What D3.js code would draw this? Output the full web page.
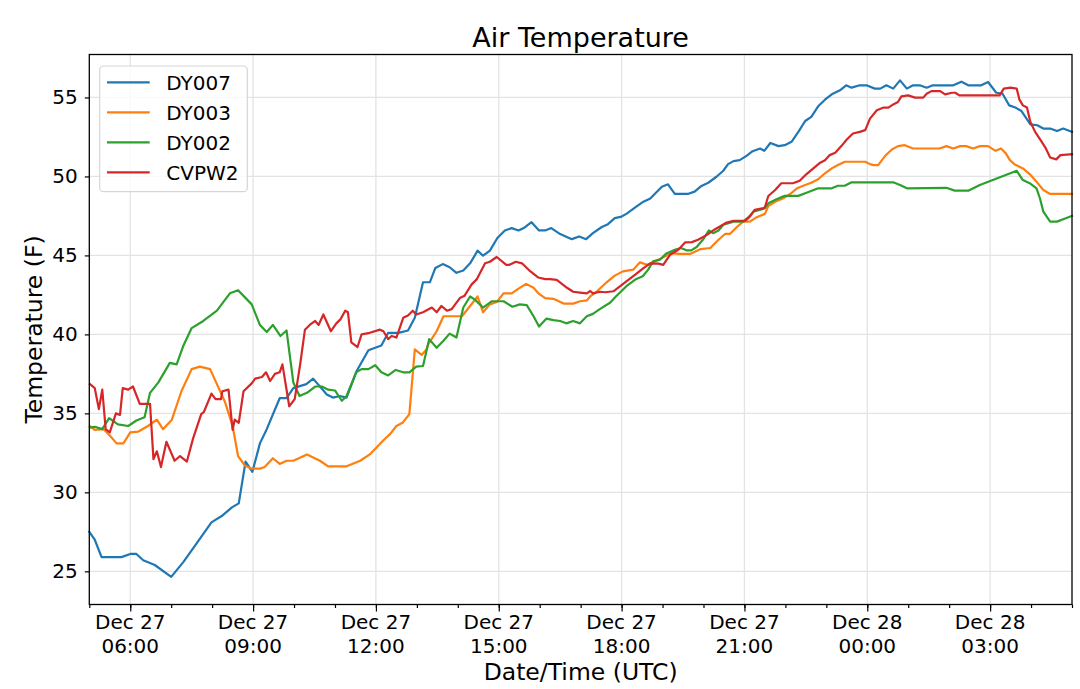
<!DOCTYPE html>
<html>
<head>
<meta charset="utf-8">
<script src="https://cdn.jsdelivr.net/npm/d3@7"></script>
<style>
  body { margin: 0; background: #fff; }
  text { font-family: "DejaVu Sans", sans-serif; fill: #000; }
</style>
</head>
<body>
<script>
// station series, times as "day HH:MM" in December (UTC)
const dy007Time = ["27 05:00","27 05:08","27 05:18","27 05:47","27 06:00","27 06:09","27 06:19","27 06:36","27 07:00","27 07:18","27 07:37","27 07:59","27 08:14","27 08:29","27 08:39","27 08:49","27 08:59","27 09:10","27 09:20","27 09:39","27 09:49","27 09:59","27 10:18","27 10:28","27 10:48","27 10:57","27 11:07","27 11:17","27 11:32","27 11:49","27 12:08","27 12:18","27 12:33","27 12:47","27 12:57","27 13:09","27 13:19","27 13:27","27 13:38","27 13:48","27 13:58","27 14:08","27 14:18","27 14:29","27 14:37","27 14:47","27 14:58","27 15:09","27 15:19","27 15:29","27 15:38","27 15:48","27 15:59","27 16:08","27 16:17","27 16:30","27 16:47","27 16:58","27 17:08","27 17:18","27 17:31","27 17:40","27 17:50","27 18:00","27 18:07","27 18:22","27 18:32","27 18:42","27 18:59","27 19:08","27 19:18","27 19:38","27 19:47","27 19:57","27 20:07","27 20:19","27 20:29","27 20:36","27 20:44","27 20:53","27 21:03","27 21:12","27 21:23","27 21:29","27 21:38","27 21:50","27 21:59","27 22:09","27 22:19","27 22:29","27 22:38","27 22:48","27 22:58","27 23:08","27 23:20","27 23:29","27 23:37","27 23:49","27 23:59","28 00:11","28 00:19","28 00:28","28 00:38","28 00:48","28 00:58","28 01:07","28 01:17","28 01:27","28 01:36","28 02:06","28 02:18","28 02:28","28 02:47","28 02:57","28 03:09","28 03:18","28 03:28","28 03:37","28 03:46","28 03:59","28 04:09","28 04:18","28 04:28","28 04:38","28 04:47","28 05:00"];
const dy007Temp = [27.5,27.0,25.9,25.9,26.1,26.1,25.7,25.4,24.65,25.6,26.75,28.1,28.5,29.05,29.3,31.95,31.3,33.1,34.0,35.96,35.96,36.6,36.85,37.2,36.2,36.0,36.1,36.0,37.7,39.0,39.3,40.1,40.1,40.25,41.05,43.3,43.3,44.2,44.45,44.25,43.9,44.05,44.5,45.3,44.98,45.3,46.1,46.58,46.73,46.58,46.77,47.1,46.58,46.58,46.73,46.35,46.03,46.2,46.03,46.41,46.8,46.98,47.36,47.46,47.63,48.1,48.4,48.6,49.35,49.5,48.9,48.9,49.04,49.4,49.6,49.98,50.36,50.78,50.97,51.03,51.3,51.6,51.77,51.62,52.12,51.92,51.98,52.19,52.82,53.51,53.77,54.44,54.86,55.2,55.45,55.77,55.62,55.77,55.77,55.56,55.56,55.77,55.56,56.08,55.56,55.77,55.77,55.62,55.77,55.77,56.0,55.77,55.77,55.98,55.3,55.25,54.5,54.36,54.14,53.3,53.24,53.03,53.03,52.88,53.03,52.82];

const dy003Time = ["27 05:01","27 05:08","27 05:21","27 05:30","27 05:40","27 05:50","27 06:00","27 06:12","27 06:26","27 06:39","27 06:48","27 07:01","27 07:15","27 07:30","27 07:42","27 07:57","27 08:07","27 08:19","27 08:30","27 08:38","27 08:48","27 08:58","27 09:10","27 09:17","27 09:29","27 09:39","27 09:49","27 09:59","27 10:19","27 10:38","27 10:50","27 11:17","27 11:37","27 11:51","27 12:11","27 12:21","27 12:30","27 12:39","27 12:49","27 12:57","27 13:07","27 13:14","27 13:17","27 13:29","27 13:39","27 14:06","27 14:18","27 14:29","27 14:37","27 14:47","27 14:57","27 15:07","27 15:19","27 15:29","27 15:40","27 15:51","27 15:58","27 16:08","27 16:20","27 16:35","27 16:49","27 16:59","27 17:09","27 17:14","27 17:24","27 17:38","27 17:50","27 18:02","27 18:17","27 18:27","27 18:37","27 18:44","27 18:54","27 19:04","27 19:14","27 19:24","27 19:41","27 19:56","27 20:10","27 20:22","27 20:32","27 20:39","27 20:49","27 20:58","27 21:08","27 21:18","27 21:30","27 21:35","27 21:45","27 21:57","27 22:07","27 22:17","27 22:29","27 22:38","27 22:48","27 22:58","27 23:08","27 23:17","27 23:27","27 23:57","28 00:04","28 00:09","28 00:16","28 00:26","28 00:36","28 00:45","28 00:55","28 01:07","28 01:46","28 01:56","28 02:06","28 02:16","28 02:25","28 02:35","28 02:45","28 02:57","28 03:08","28 03:16","28 03:23","28 03:29","28 03:36","28 03:48","28 03:58","28 04:08","28 04:18","28 04:28","28 05:00"];
const dy003Temp = [34.2,33.96,34.0,33.6,33.1,33.1,33.8,33.85,34.2,34.6,34.0,34.6,36.4,37.8,37.96,37.8,36.85,35.7,34.2,32.3,31.7,31.5,31.5,31.6,32.16,31.8,32.0,32.0,32.4,32.0,31.65,31.65,32.0,32.4,33.3,33.7,34.2,34.4,34.95,39.05,38.7,39.05,39.4,40.2,41.15,41.15,41.8,42.4,41.4,41.9,42.05,42.6,42.6,42.9,43.2,42.95,42.6,42.3,42.25,41.95,41.95,42.1,42.15,42.4,42.73,43.3,43.72,43.99,44.1,44.56,44.41,44.52,44.73,44.94,45.15,45.1,45.1,45.4,45.47,45.99,46.37,46.37,46.8,47.14,47.14,47.42,47.63,48.13,48.4,48.62,48.89,49.25,49.46,49.6,49.82,50.2,50.51,50.72,50.93,50.93,50.78,50.72,50.72,51.29,51.71,51.92,51.98,51.77,51.77,51.92,51.77,51.92,51.92,51.77,51.92,51.92,51.62,51.77,51.46,51.03,50.76,50.51,50.15,49.67,49.14,48.89,48.89];

const dy002Time = ["27 05:01","27 05:08","27 05:19","27 05:29","27 05:42","27 05:57","27 06:09","27 06:21","27 06:29","27 06:41","27 06:58","27 07:08","27 07:18","27 07:30","27 07:47","27 08:07","27 08:26","27 08:38","27 08:58","27 09:10","27 09:20","27 09:29","27 09:40","27 09:49","27 09:59","27 10:08","27 10:19","27 10:31","27 10:41","27 10:50","27 11:00","27 11:10","27 11:17","27 11:31","27 11:39","27 11:49","27 11:59","27 12:08","27 12:18","27 12:29","27 12:40","27 12:49","27 12:59","27 13:09","27 13:18","27 13:29","27 13:39","27 13:48","27 13:58","27 14:08","27 14:18","27 14:25","27 14:37","27 14:50","27 15:07","27 15:20","27 15:31","27 15:41","27 15:51","27 15:59","27 16:10","27 16:20","27 16:30","27 16:39","27 16:49","27 16:59","27 17:09","27 17:18","27 17:28","27 17:43","27 17:52","27 18:07","27 18:20","27 18:31","27 18:39","27 18:46","27 18:56","27 19:05","27 19:18","27 19:27","27 19:35","27 19:42","27 19:50","27 19:59","27 20:08","27 20:14","27 20:22","27 20:29","27 20:44","27 20:58","27 21:06","27 21:13","27 21:26","27 21:30","27 21:35","27 21:47","27 21:59","27 22:19","27 22:31","27 22:48","27 23:08","27 23:17","27 23:27","27 23:37","28 00:38","28 00:48","28 00:58","28 01:56","28 02:08","28 02:28","28 02:45","28 03:39","28 03:48","28 03:58","28 04:08","28 04:13","28 04:18","28 04:28","28 04:38","28 04:48","28 05:00"];
const dy002Temp = [34.1,34.15,34.0,34.7,34.3,34.2,34.55,34.75,36.3,36.95,38.2,38.1,39.3,40.4,40.85,41.5,42.6,42.8,41.9,40.6,40.15,40.6,39.9,40.25,36.95,36.1,36.3,36.7,36.7,36.5,36.45,35.8,36.1,37.6,37.8,37.8,38.05,37.6,37.4,37.75,37.6,37.6,37.96,38.0,39.7,39.15,39.6,40.05,39.8,41.7,42.4,42.2,41.7,42.1,42.1,41.75,41.9,41.85,41.15,40.5,41.0,40.9,40.85,40.7,40.85,40.7,41.15,41.3,41.6,42.0,42.41,43.05,43.47,43.68,44.1,44.62,44.73,45.1,45.36,45.47,45.32,45.32,45.53,45.99,46.58,46.41,46.58,46.94,47.14,47.14,47.42,47.77,47.93,47.99,48.3,48.56,48.77,48.77,48.97,49.25,49.25,49.41,49.41,49.63,49.63,49.46,49.25,49.28,49.1,49.1,49.46,50.36,49.77,49.57,49.25,48.62,47.77,47.14,47.14,47.31,47.5];

const cvpw2Time = ["27 05:01","27 05:08","27 05:14","27 05:19","27 05:24","27 05:30","27 05:39","27 05:45","27 05:49","27 05:57","27 06:04","27 06:14","27 06:29","27 06:34","27 06:39","27 06:45","27 06:53","27 07:05","27 07:13","27 07:23","27 07:32","27 07:44","27 07:48","27 07:59","27 08:05","27 08:13","27 08:15","27 08:24","27 08:30","27 08:33","27 08:39","27 08:46","27 08:58","27 09:03","27 09:13","27 09:19","27 09:25","27 09:32","27 09:39","27 09:43","27 09:53","27 10:01","27 10:09","27 10:16","27 10:23","27 10:31","27 10:36","27 10:43","27 10:54","27 11:02","27 11:08","27 11:15","27 11:19","27 11:24","27 11:33","27 11:39","27 11:51","27 12:06","27 12:11","27 12:18","27 12:23","27 12:30","27 12:40","27 12:47","27 12:54","27 12:59","27 13:09","27 13:22","27 13:29","27 13:36","27 13:44","27 13:51","27 14:03","27 14:10","27 14:20","27 14:28","27 14:40","27 14:47","27 14:57","27 15:11","27 15:15","27 15:25","27 15:34","27 15:46","27 15:58","27 16:08","27 16:15","27 16:25","27 16:40","27 16:49","27 16:59","27 17:09","27 17:14","27 17:18","27 17:28","27 17:36","27 17:48","27 17:58","27 18:07","27 18:20","27 18:32","27 18:42","27 18:54","27 19:01","27 19:11","27 19:23","27 19:33","27 19:43","27 19:52","27 20:05","27 20:17","27 20:24","27 20:34","27 20:44","27 21:01","27 21:08","27 21:15","27 21:28","27 21:30","27 21:35","27 21:45","27 21:54","27 22:11","27 22:21","27 22:31","27 22:41","27 22:51","27 22:58","27 23:05","27 23:13","27 23:22","27 23:30","27 23:39","27 23:49","27 23:57","28 00:04","28 00:14","28 00:24","28 00:31","28 00:38","28 00:45","28 00:50","28 01:00","28 01:10","28 01:22","28 01:27","28 01:34","28 01:47","28 01:54","28 02:04","28 02:09","28 02:15","28 03:14","28 03:20","28 03:30","28 03:39","28 03:43","28 03:48","28 03:54","28 03:59","28 04:06","28 04:14","28 04:21","28 04:28","28 04:37","28 04:43","28 05:00"];
const cvpw2Temp = [36.85,36.6,35.27,36.5,34.0,33.8,35.0,34.9,36.6,36.5,36.7,35.6,35.6,32.1,32.6,31.6,33.2,32.0,32.3,31.95,33.4,34.95,35.1,36.25,35.9,35.9,36.4,36.5,33.95,34.6,34.4,36.4,36.9,37.2,37.3,37.6,37.05,37.5,37.6,38.1,35.45,35.9,38.1,40.3,40.6,40.85,40.6,41.26,40.2,40.7,40.95,41.5,41.4,39.5,39.2,40.0,40.1,40.3,40.2,39.7,39.9,39.8,41.05,41.2,41.5,41.26,41.4,41.7,41.4,41.8,41.5,41.6,42.3,42.45,43.15,43.5,44.5,44.6,44.9,44.4,44.4,44.6,44.5,44.0,43.6,43.5,43.5,43.45,42.95,42.7,42.65,42.6,42.75,42.6,42.7,42.67,42.73,43.05,43.36,43.78,44.2,44.5,44.48,44.4,45.04,45.36,45.82,45.84,45.99,46.3,46.66,46.83,47.08,47.19,47.19,47.46,47.88,47.99,48.05,48.76,49.14,49.57,49.57,49.73,50.15,50.51,50.87,51.03,51.35,51.5,51.92,52.34,52.72,52.82,52.93,53.66,54.19,54.36,54.36,54.56,54.71,55.07,55.13,54.99,54.99,55.24,55.4,55.4,55.2,55.3,55.3,55.13,55.13,55.56,55.62,55.56,54.86,54.5,54.36,53.45,52.82,52.3,51.83,51.2,51.08,51.35,51.41];

const seriesNames = ["DY007", "DY003", "DY002", "CVPW2"];
const seriesColors = ["#1f77b4", "#ff7f0e", "#2ca02c", "#d62728"];
const timeStart = "27 05:00";
const timeEnd = "28 05:00";
const tempTicks = [25, 30, 35, 40, 45, 50, 55];

const W = 1080, H = 689;
const plotLeft = 89.3, plotRight = 1072, plotTop = 54.5, plotBottom = 604.5;

const parse = d3.timeParse("%b %d %H:%M");
const toDate = s => parse("Dec " + s);

const series = [
  { name: seriesNames[0], color: seriesColors[0], times: dy007Time, temps: dy007Temp },
  { name: seriesNames[1], color: seriesColors[1], times: dy003Time, temps: dy003Temp },
  { name: seriesNames[2], color: seriesColors[2], times: dy002Time, temps: dy002Temp },
  { name: seriesNames[3], color: seriesColors[3], times: cvpw2Time, temps: cvpw2Temp }
].map(s => ({ ...s, points: s.times.map((t, i) => [toDate(t), s.temps[i]]) }));

const svg = d3.select("body").append("svg")
  .attr("width", W)
  .attr("height", H)
  .attr("viewBox", `0 0 ${W} ${H}`);

const x = d3.scaleTime()
  .domain([toDate(timeStart), toDate(timeEnd)])
  .range([plotLeft, plotRight]);

const y = d3.scaleLinear()
  .domain([22.9, 57.72])
  .range([plotBottom, plotTop]);

const majorTimes = d3.timeHour.every(3).range(x.domain()[0], d3.timeMinute.offset(x.domain()[1], 1));
const minorTimes = d3.timeHour.every(1).range(x.domain()[0], d3.timeMinute.offset(x.domain()[1], 1));

// grid
const grid = svg.append("g").attr("stroke", "#e3e3e3").attr("stroke-width", 1.3);
majorTimes.forEach(t => {
  grid.append("line").attr("x1", x(t)).attr("x2", x(t)).attr("y1", plotTop).attr("y2", plotBottom);
});
tempTicks.forEach(v => {
  grid.append("line").attr("x1", plotLeft).attr("x2", plotRight).attr("y1", y(v)).attr("y2", y(v));
});

// lines
const line = d3.line().x(d => x(d[0])).y(d => y(d[1]));
const plot = svg.append("g");
series.forEach(s => {
  plot.append("path")
    .attr("d", line(s.points))
    .attr("fill", "none")
    .attr("stroke", s.color)
    .attr("stroke-width", 2.2)
    .attr("stroke-linejoin", "round")
    .attr("stroke-linecap", "square");
});

// frame
svg.append("rect")
  .attr("x", plotLeft).attr("y", plotTop)
  .attr("width", plotRight - plotLeft).attr("height", plotBottom - plotTop)
  .attr("fill", "none").attr("stroke", "#000").attr("stroke-width", 1.3);

// x axis: minor ticks every hour, major every 3 hours
const xAxis = svg.append("g").attr("transform", `translate(0,${plotBottom})`);
xAxis.call(d3.axisBottom(x).tickValues(minorTimes).tickSize(3.5).tickFormat(""));
xAxis.append("g").call(d3.axisBottom(x).tickValues(majorTimes).tickSize(7).tickFormat(""));
xAxis.selectAll(".domain").remove();
xAxis.selectAll("line").attr("stroke", "#000").attr("stroke-width", 1.2);

const fmtDay = d3.timeFormat("%b %d");
const fmtHour = d3.timeFormat("%H:%M");
majorTimes.forEach(t => {
  const lbl = svg.append("text")
    .attr("text-anchor", "middle")
    .attr("font-size", 20);
  lbl.append("tspan").attr("x", x(t)).attr("y", 629).text(fmtDay(t));
  lbl.append("tspan").attr("x", x(t)).attr("y", 653).text(fmtHour(t));
});

// y axis
const yAxis = svg.append("g").attr("transform", `translate(${plotLeft},0)`)
  .call(d3.axisLeft(y).tickValues(tempTicks).tickSize(4.5).tickPadding(7));
yAxis.select(".domain").remove();
yAxis.selectAll("line").attr("stroke", "#000").attr("stroke-width", 1.2);
yAxis.selectAll("text")
  .attr("font-size", 20)
  .attr("font-family", "DejaVu Sans")
  .attr("fill", "#000");

// labels
svg.append("text")
  .attr("x", (plotLeft + plotRight) / 2).attr("y", 46.5)
  .attr("text-anchor", "middle")
  .attr("font-size", 27)
  .text("Air Temperature");

svg.append("text")
  .attr("x", (plotLeft + plotRight) / 2).attr("y", 680)
  .attr("text-anchor", "middle")
  .attr("font-size", 23.5)
  .text("Date/Time (UTC)");

svg.append("text")
  .attr("transform", `translate(42,${(plotTop + plotBottom) / 2}) rotate(-90)`)
  .attr("text-anchor", "middle")
  .attr("font-size", 23.5)
  .text("Temperature (F)");

// legend
const legend = svg.append("g");
legend.append("rect")
  .attr("x", 99.7).attr("y", 66)
  .attr("width", 147.6).attr("height", 125.7)
  .attr("rx", 4)
  .attr("fill", "#fff").attr("fill-opacity", 0.8)
  .attr("stroke", "#d5d5d5").attr("stroke-width", 1.2);
series.forEach((s, i) => {
  const ly = 82.3 + i * 30;
  legend.append("line")
    .attr("x1", 107).attr("x2", 149.7)
    .attr("y1", ly).attr("y2", ly)
    .attr("stroke", s.color).attr("stroke-width", 2.2);
  legend.append("text")
    .attr("x", 166.3).attr("y", ly + 7.5)
    .attr("font-size", 20)
    .text(s.name);
});
</script>
</body>
</html>
